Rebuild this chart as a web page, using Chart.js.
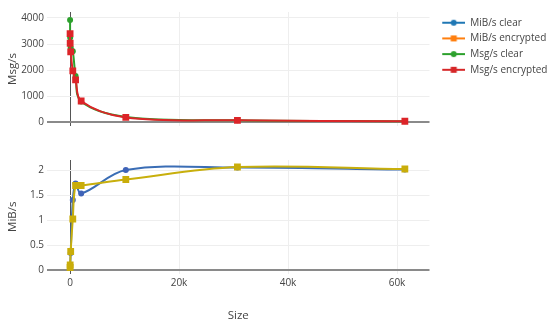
<!DOCTYPE html>
<html><head><meta charset="utf-8">
<script src="https://cdn.jsdelivr.net/npm/chart.js@4/dist/chart.umd.min.js"></script>
<style>html,body{margin:0;padding:0;background:#fff;}#wrap{width:550px;height:325px;}</style>
</head><body><div id="wrap"><canvas id="c" width="550" height="325"></canvas></div>
<script>
// ---- data ----
const sizes      = [16, 32, 128, 512, 1024, 2048, 10240, 30720, 61440];
const mibClear   = [0.06, 0.10, 0.34, 1.40, 1.73, 1.53, 2.00, 2.05, 2.01];
const mibEnc     = [0.05, 0.10, 0.37, 1.02, 1.69, 1.69, 1.81, 2.06, 2.02];
const msgClear   = [3920, 3250, 2860, 2720, 1770, 790, 200, 70, 34];
const msgEnc     = [3400, 3030, 2700, 1970, 1620, 810, 180, 68, 33];
const xTicks     = [0, 20000, 40000, 60000];
const yTopTicks  = [0, 1000, 2000, 3000, 4000];
const yBotTicks  = [0, 0.5, 1, 1.5, 2];
const legendNames  = ['MiB/s clear', 'MiB/s encrypted', 'Msg/s clear', 'Msg/s encrypted'];
const legendColors = ['#1f77b4', '#ff7f0e', '#2ca02c', '#d62728'];
const legendMarks  = ['circle', 'rect', 'circle', 'rect'];

const pts = ys => sizes.map((s, i) => ({x: s, y: ys[i]}));

function legendIcon(color, mark) {
  const c = document.createElement('canvas');
  c.width = 30; c.height = 10;
  const g = c.getContext('2d');
  g.strokeStyle = color; g.lineWidth = 2;
  g.beginPath(); g.moveTo(7, 5); g.lineTo(30, 5); g.stroke();
  g.fillStyle = color;
  if (mark === 'circle') { g.beginPath(); g.arc(18.5, 5, 3, 0, Math.PI * 2); g.fill(); }
  else { g.fillRect(15.5, 2, 6, 6); }
  return c;
}
const icons = legendNames.map((n, i) => legendIcon(legendColors[i], legendMarks[i]));

Chart.defaults.font.family = "'Open Sans', sans-serif";
Chart.defaults.color = '#444';

const gridColor = c => (c.tick && c.tick.value === 0) ? '#8a8a8a' : '#eeeeee';
const gridColorX = c => (c.tick && c.tick.value === 0) ? '#555555' : '#eeeeee';
const gridWidth = c => (c.tick && c.tick.value === 0) ? 2 : 1;

const helper = {
  id: 'helper',
  beforeUpdate(chart) {
    const lg = chart.legend;
    if (lg && !lg._patched) {
      const orig = lg.fit.bind(lg);
      lg.fit = function () { orig(); this.width = 120.5; };
      lg._patched = true;
    }
  },
  beforeDatasetsDraw(chart) {
    const t = chart.scales.yTop, b = chart.scales.yBot, a = chart.chartArea;
    const ctx = chart.ctx;
    ctx.save();
    ctx.fillStyle = '#ffffff';
    ctx.fillRect(a.left - 2, t.bottom, a.right - a.left + 4, b.top - t.bottom);
    ctx.restore();
  }
};

new Chart(document.getElementById('c'), {
  type: 'line',
  data: {
    datasets: [
      {label: legendNames[0], data: pts(mibClear), yAxisID: 'yBot', order: 3,
       borderColor: '#3a6db5', backgroundColor: '#3a6db5', pointBackgroundColor: '#3f63b8',
       pointStyle: 'circle', pointRadius: 3},
      {label: legendNames[1], data: pts(mibEnc), yAxisID: 'yBot', order: 2,
       borderColor: '#c8af0c', backgroundColor: '#c8af0c', pointBackgroundColor: '#c9ad0a',
       pointStyle: 'rect', pointRadius: 4.8},
      {label: legendNames[2], data: pts(msgClear), yAxisID: 'yTop', order: 1,
       borderColor: '#2ca02c', backgroundColor: '#2ca02c', pointBackgroundColor: '#2ca02c',
       pointStyle: 'circle', pointRadius: 3},
      {label: legendNames[3], data: pts(msgEnc), yAxisID: 'yTop', order: 0,
       borderColor: '#dc2428', backgroundColor: '#dc2428', pointBackgroundColor: '#dc2428',
       pointStyle: 'rect', pointRadius: 4.8}
    ]
  },
  options: {
    responsive: false,
    animation: false,
    devicePixelRatio: 1,
    layout: {padding: {top: 12, left: 0, right: 0, bottom: 0}},
    elements: {
      line: {borderWidth: 2, tension: 0.35, fill: false},
      point: {borderWidth: 0, hoverRadius: 4}
    },
    plugins: {
      tooltip: {enabled: false},
      legend: {
        position: 'right', fullSize: false, align: 'start',
        labels: {
          usePointStyle: true, pointStyleWidth: 30, padding: 5.7,
          font: {size: 10}, color: '#444',
          generateLabels: () => legendNames.map((n, i) => ({
            text: n, pointStyle: icons[i], fillStyle: legendColors[i],
            strokeStyle: legendColors[i], lineWidth: 0, hidden: false,
            datasetIndex: i, fontColor: '#444'
          }))
        }
      }
    },
    scales: {
      x: {
        type: 'linear', position: 'bottom', min: -4220, max: 65960,
        afterBuildTicks: s => { s.ticks = xTicks.map(v => ({value: v})); },
        ticks: {padding: 4, font: {size: 10}, color: '#444',
                callback: v => v === 0 ? '0' : (v / 1000) + 'k'},
        grid: {color: gridColorX, lineWidth: 1, drawTicks: false},
        border: {display: false},
        title: {display: true, text: 'Size', font: {size: 11.5}, color: '#444', padding: {top: 0, bottom: 2}},
        afterFit: s => { s.height = 51.5; }
      },
      yTop: {
        type: 'linear', position: 'left', stack: 'v', stackWeight: 114, weight: 3,
        min: -150, max: 4230,
        afterBuildTicks: s => { s.ticks = yTopTicks.map(v => ({value: v})); },
        ticks: {padding: 3, font: {size: 10}, color: '#444', callback: v => String(v)},
        grid: {color: gridColor, lineWidth: gridWidth, drawTicks: false},
        border: {display: false},
        title: {display: true, text: 'Msg/s', font: {size: 11.5}, color: '#444', padding: {top: 5.5, bottom: 0}},
        afterFit: s => { s.width = 47; }
      },
      ySpacer: {
        type: 'linear', position: 'left', stack: 'v', stackWeight: 34, weight: 2,
        display: false, min: 0, max: 1
      },
      yBot: {
        type: 'linear', position: 'left', stack: 'v', stackWeight: 113.5, weight: 1,
        min: -0.07, max: 2.2,
        afterBuildTicks: s => { s.ticks = yBotTicks.map(v => ({value: v})); },
        ticks: {padding: 3, font: {size: 10}, color: '#444', callback: v => String(v)},
        grid: {color: gridColor, lineWidth: gridWidth, drawTicks: false},
        border: {display: false},
        title: {display: true, text: 'MiB/s', font: {size: 11.5}, color: '#444', padding: {top: 5.5, bottom: 0}},
        afterFit: s => { s.width = 47; }
      }
    }
  },
  plugins: [helper]
});
</script>
</body></html>
